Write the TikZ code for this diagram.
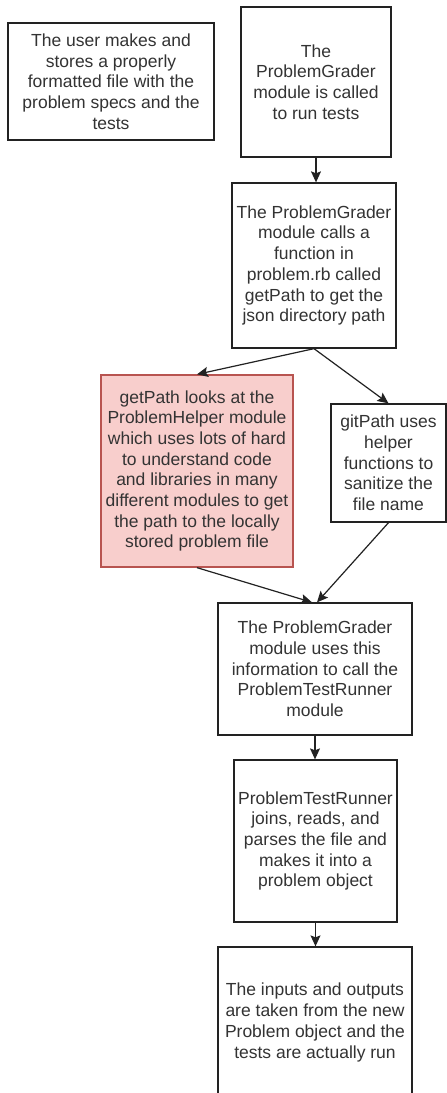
\documentclass[tikz,border=0pt]{standalone}
\usepackage{fontspec}
\setmainfont{Liberation Sans}
\usetikzlibrary{arrows.meta}
\definecolor{txtgray}{HTML}{333333}
\definecolor{boxline}{HTML}{222222}
\definecolor{redfill}{HTML}{F8CECC}
\definecolor{redline}{HTML}{B85450}
\tikzset{
  flowbox/.style={draw=boxline, line width=1.3pt, fill=white, inner sep=0pt,
    align=center, text=txtgray, font=\fontsize{17.5}{20.7}\selectfont},
  warnbox/.style={flowbox, draw=redline, fill=redfill},
  flowarrow/.style={draw=boxline, line width=1.2pt,
    -{Stealth[length=11pt,width=10pt,inset=2pt]}}
}
\begin{document}
\begin{tikzpicture}[x=1pt,y=-1pt]
  \useasboundingbox (0,0) rectangle (447,1093);
  \fill[white] (0,0) rectangle (447,1093);
  \clip (0,0) rectangle (447,1093);

  % boxes, placed by centre with their measured sizes
  \node[flowbox, minimum width=206pt, minimum height=117pt] (user) at (111,81.5)
    {The user makes and\\stores a properly\\formatted file with the\\problem specs and the\\tests};
  \node[flowbox, minimum width=150pt, minimum height=150pt] (called) at (316,82)
    {The\\ProblemGrader\\module is called\\to run tests};
  \node[flowbox, minimum width=164pt, minimum height=165pt] (calls) at (314,265.5)
    {The ProblemGrader\\module calls a\\function in\\problem.rb called\\getPath to get the\\json directory path};
  \node[warnbox, minimum width=192pt, minimum height=192pt] (helper) at (197,471)
    {getPath looks at the\\ProblemHelper module\\which uses lots of hard\\to understand code\\and libraries in many\\different modules to get\\the path to the locally\\stored problem file};
  \node[flowbox, minimum width=115pt, minimum height=118pt] (sanitize) at (388.5,463)
    {gitPath uses\\helper\\functions to\\sanitize the\\file name};
  \node[flowbox, minimum width=194pt, minimum height=132pt] (uses) at (315,669)
    {The ProblemGrader\\module uses this\\information to call the\\ProblemTestRunner\\module};
  \node[flowbox, minimum width=163pt, minimum height=162pt] (runner) at (315.5,841)
    {ProblemTestRunner\\joins, reads, and\\parses the file and\\makes it into a\\problem object};
  \node[flowbox, minimum width=194pt, minimum height=151pt] (run) at (315,1022.5)
    {The inputs and outputs\\are taken from the new\\Problem object and the\\tests are actually run};

  % connectors
  \draw[flowarrow] (called.south) -- (called.south |- calls.north);
  \draw[flowarrow] (calls.south) -- (helper.north);
  \draw[flowarrow] (calls.south) -- (sanitize.north);
  \draw[flowarrow] (helper.south) -- ([xshift=-3pt]uses.north);
  \draw[flowarrow] (sanitize.south) -- ([xshift=2pt]uses.north);
  \draw[flowarrow] (uses.south) -- (uses.south |- runner.north);
  \draw[flowarrow] (runner.south) -- (runner.south |- run.north);
\end{tikzpicture}
\end{document}
